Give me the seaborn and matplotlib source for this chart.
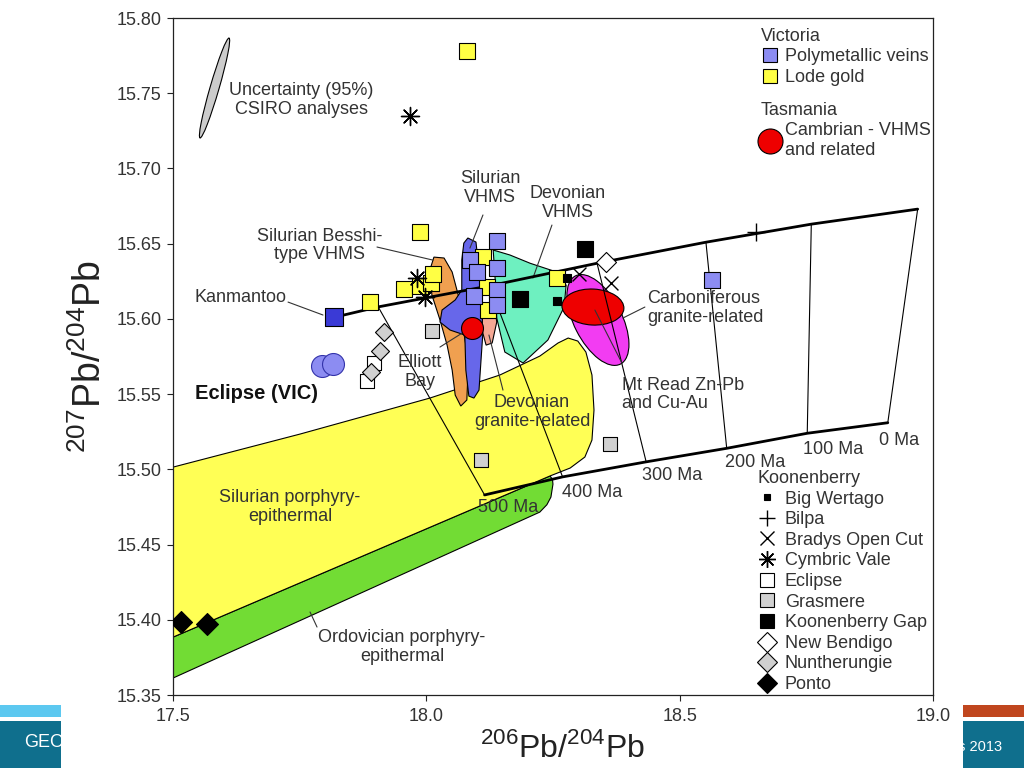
import matplotlib
matplotlib.use("Agg")
import matplotlib.pyplot as plt
import seaborn as sns
from matplotlib.patches import Ellipse, Rectangle
from matplotlib.lines import Line2D
from matplotlib.transforms import ScaledTranslation

# ---- point data (206Pb/204Pb, 207Pb/204Pb) ----
poly_x = [18.139, 18.086, 18.100, 18.139, 18.094, 18.139, 18.139, 18.563]
poly_y = [15.652, 15.639, 15.631, 15.634, 15.615, 15.619, 15.609, 15.626]
kanm_x = [17.817]
kanm_y = [15.601]
lode_x = [18.080, 17.988, 17.889, 17.956, 17.988, 18.009, 18.013, 18.111, 18.119, 18.121, 18.257]
lode_y = [15.778, 15.658, 15.611, 15.620, 15.622, 15.624, 15.630, 15.641, 15.621, 15.606, 15.627]
ecl_vic_x = [17.795, 17.816]
ecl_vic_y = [15.569, 15.570]
elliott_x = [18.090]
elliott_y = [15.594]
wertago_x = [18.257, 18.277]
wertago_y = [15.612, 15.627]
bilpa_x = [18.650]
bilpa_y = [15.658]
bradys_x = [18.302, 18.365]
bradys_y = [15.630, 15.624]
cymbric_x = [17.968, 17.982, 17.997]
cymbric_y = [15.735, 15.627, 15.6145]
eclipse_x = [17.897, 17.883]
eclipse_y = [15.571, 15.559]
grasmere_x = [18.011, 18.107, 18.363]
grasmere_y = [15.592, 15.506, 15.517]
kgap_x = [18.314, 18.184]
kgap_y = [15.6465, 15.613]
bendigo_x = [18.355]
bendigo_y = [15.638]
nunth_x = [17.917, 17.909, 17.891]
nunth_y = [15.591, 15.579, 15.565]
ponto_x = [17.516, 17.567]
ponto_y = [15.3985, 15.397]

# ---- model curves ----
upper_x = [17.817, 17.905, 18.125, 18.337, 18.552, 18.760, 18.970]
upper_y = [15.601, 15.608, 15.622, 15.637, 15.651, 15.663, 15.673]
lower_x = [18.115, 18.269, 18.434, 18.593, 18.752, 18.911]
lower_y = [15.483, 15.495, 15.505, 15.514, 15.524, 15.531]
ages = ["500 Ma", "400 Ma", "300 Ma", "200 Ma", "100 Ma", "0 Ma"]
age_lab_x = [18.161, 18.327, 18.485, 18.649, 18.804, 18.934]
age_lab_y = [15.4745, 15.4849, 15.4962, 15.5049, 15.5135, 15.5195]

# ---- fields ----
yellow_x = [17.5, 17.751, 18.007, 18.145, 18.224, 18.260, 18.280, 18.299, 18.315,
            18.327, 18.331, 18.327, 18.313, 18.284, 18.244, 17.5]
yellow_y = [15.5015, 15.5235, 15.5474, 15.5627, 15.5753, 15.584, 15.5873, 15.5853, 15.578,
            15.5627, 15.5394, 15.5195, 15.5082, 15.5009, 15.4956, 15.3885]
green_x = [17.5, 18.244, 18.249, 18.250, 18.246, 18.238, 18.224, 17.5]
green_y = [15.3885, 15.4956, 15.4935, 15.4902, 15.4816, 15.4765, 15.4716, 15.3613]
orange_x = [18.015, 18.007, 18.011, 18.027, 18.041, 18.051, 18.057, 18.068,
            18.080, 18.082, 18.078, 18.070, 18.063, 18.051, 18.035]
orange_y = [15.6411, 15.6325, 15.6159, 15.5993, 15.5826, 15.566, 15.5494, 15.5421,
            15.5461, 15.5627, 15.5826, 15.5993, 15.6159, 15.6312, 15.6405]
blue_x = [18.082, 18.098, 18.104, 18.108, 18.112, 18.108, 18.104, 18.094, 18.084,
          18.078, 18.076, 18.047, 18.027, 18.031, 18.057, 18.070, 18.070, 18.074]
blue_y = [15.6538, 15.6511, 15.6325, 15.6126, 15.5926, 15.5727, 15.5527, 15.5474, 15.5487,
          15.566, 15.5893, 15.5926, 15.5979, 15.6059, 15.6126, 15.6192, 15.6391, 15.6504]
pink_x = [18.112, 18.136, 18.139, 18.130, 18.118, 18.110]
pink_y = [15.6106, 15.6059, 15.5979, 15.584, 15.5826, 15.5926]
teal_x = [18.132, 18.165, 18.205, 18.250, 18.276, 18.272, 18.240, 18.191, 18.155, 18.139, 18.136]
teal_y = [15.6458, 15.6425, 15.637, 15.632, 15.6225, 15.6079, 15.586, 15.5707, 15.578, 15.6006, 15.6258]

# ellipses: centre x, centre y, width/height (inches), angle
mtread = (18.3388, 15.5993, 0.99, 0.48, 117)
cambrian = (18.3289, 15.6079, 0.62, 0.36, -3)
uncert = (17.5819, 15.7535, 1.04, 0.09, 73.8)

# labels and leaders
labels = [
    ("Uncertainty (95%)\nCSIRO analyses", 17.7526, 15.7455, "center"),
    ("Silurian\nVHMS", 18.1256, 15.687, "center"),
    ("Devonian\nVHMS", 18.2795, 15.677, "center"),
    ("Silurian Besshi-\ntype VHMS", 17.79, 15.649, "center"),
    ("Kanmantoo", 17.723, 15.614, "right"),
    ("Elliott\nBay", 17.9875, 15.5647, "center"),
    ("Devonian\ngranite-related", 18.2085, 15.5381, "center"),
    ("Mt Read Zn-Pb\nand Cu-Au", 18.3861, 15.55, "left"),
    ("Carboniferous\ngranite-related", 18.4355, 15.6072, "left"),
    ("Silurian porphyry-\nepithermal", 17.7309, 15.475, "center"),
    ("Ordovician porphyry-\nepithermal", 17.952, 15.3819, "center"),
]
leaders = [
    ([17.9026, 18.0131], [15.6478, 15.6391]),
    ([17.727, 17.796], [15.6112, 15.6026]),
    ([18.1118, 18.0861], [15.6691, 15.6471]),
    ([18.248, 18.2105], [15.6624, 15.6272]),
    ([18.0269, 18.0802], [15.5813, 15.5926]),
    ([18.1513, 18.1236], [15.5527, 15.5893]),
    ([18.4315, 18.3881], [15.6079, 15.6006]),
    ([18.3328, 18.3861], [15.6059, 15.5707]),
    ([17.7704, 17.7842], [15.4052, 15.3952]),
]

BLUE_SQ = "#8c8cf2"
KANM = "#3a3ad6"
LODE = "#ffff44"
TXT = "#333333"

sns.set_style("ticks")
plt.rcParams["font.family"] = ["Liberation Sans", "DejaVu Sans"]
plt.rcParams["mathtext.fontset"] = "custom"
plt.rcParams["mathtext.rm"] = "Liberation Sans"

fig = plt.figure(figsize=(10.24, 7.68), dpi=100)
ax = fig.add_axes([0.169, 0.095, 0.742, 0.8815])
ax.set_facecolor("white")

# slide footer behind the figure panel
fig.add_artist(Rectangle((0, 0), 1, 0.0612, transform=fig.transFigure, fc="#0f6f8d", ec="none", zorder=-4))
fig.add_artist(Rectangle((0, 0.0664), 0.5, 0.0156, transform=fig.transFigure, fc="#5cc8f0", ec="none", zorder=-4))
fig.add_artist(Rectangle((0.5, 0.0664), 0.5, 0.0156, transform=fig.transFigure, fc="#c0461e", ec="none", zorder=-4))
fig.text(0.0234, 0.0326, "GEO", color="white", fontsize=13, va="center", ha="left", zorder=-3)
fig.text(0.979, 0.0267, "s 2013", color="white", fontsize=10.5, va="center", ha="right", zorder=-3)
fig.add_artist(Rectangle((0.0596, 0), 0.8808, 1, transform=fig.transFigure, fc="white", ec="none", zorder=-1))

# fields
ax.fill(green_x, green_y, fc="#72dc34", ec="k", lw=0.8, zorder=1)
ax.fill(yellow_x, yellow_y, fc="#ffff55", ec="k", lw=0.8, zorder=1.1)
ax.fill(teal_x, teal_y, fc="#6ef0c0", ec="k", lw=0.8, zorder=1.2)
ax.fill(orange_x, orange_y, fc="#f0a050", ec="k", lw=0.8, zorder=1.3)
ax.fill(blue_x, blue_y, fc="#6767ea", ec="k", lw=0.8, zorder=1.4)
ax.fill(pink_x, pink_y, fc="#f4a894", ec="k", lw=0.8, zorder=1.5)


def add_ellipse(spec, fc, z):
    cx, cy, w, h, ang = spec
    tr = fig.dpi_scale_trans + ScaledTranslation(cx, cy, ax.transData)
    ax.add_patch(Ellipse((0, 0), w, h, angle=ang, transform=tr, fc=fc, ec="k", lw=0.8, zorder=z))


add_ellipse(mtread, "#f23cf2", 1.6)
add_ellipse(cambrian, "#ee0000", 1.7)
add_ellipse(uncert, "#cccccc", 1.7)

# isochrons and growth curves
for i in range(len(lower_x)):
    ax.plot([upper_x[i + 1], lower_x[i]], [upper_y[i + 1], lower_y[i]], color="k", lw=0.8, zorder=3)
sns.lineplot(x=upper_x, y=upper_y, color="k", lw=2, sort=False, ax=ax, zorder=3.5)
sns.lineplot(x=lower_x, y=lower_y, color="k", lw=2, sort=False, ax=ax, zorder=3.5)
for xs, ys in leaders:
    ax.plot(xs, ys, color="#333333", lw=0.8, zorder=3.2)

# points
pts = [
    (grasmere_x, grasmere_y, "s", 100, "#d0d0d0", 5),
    (eclipse_x, eclipse_y, "s", 90, "white", 5),
    (nunth_x, nunth_y, "D", 84, "#d0d0d0", 5.1),
    (lode_x, lode_y, "s", 117, LODE, 5.2),
    (poly_x, poly_y, "s", 117, BLUE_SQ, 5.3),
    (kanm_x, kanm_y, "s", 150, KANM, 5.3),
    (ecl_vic_x, ecl_vic_y, "o", 250, BLUE_SQ, 5.3),
    (elliott_x, elliott_y, "o", 250, "#ee0000", 5.3),
    (kgap_x, kgap_y, "s", 133, "black", 5.4),
    (wertago_x, wertago_y, "s", 33, "black", 5.4),
    (bendigo_x, bendigo_y, "D", 104, "white", 5.4),
    (ponto_x, ponto_y, "D", 125, "black", 5.4),
]
for xs, ys, m, s, c, z in pts:
    ec = "#3333aa" if m == "o" and c == BLUE_SQ else "k"
    sns.scatterplot(x=xs, y=ys, marker=m, s=s, color=c, edgecolor=ec, linewidth=0.8,
                    ax=ax, zorder=z, legend=False)
sns.scatterplot(x=bilpa_x, y=bilpa_y, marker="+", s=169, color="k", linewidth=1, ax=ax, zorder=5.5, legend=False)
sns.scatterplot(x=bradys_x, y=bradys_y, marker="x", s=100, color="k", linewidth=1, ax=ax, zorder=5.5, legend=False)
sns.scatterplot(x=cymbric_x, y=cymbric_y, marker=(8, 2, 0), s=169, color="k", linewidth=1, ax=ax, zorder=5.5, legend=False)

# text
for s, x, y, ha in labels:
    ax.text(x, y, s, ha=ha, va="center", fontsize=13, color=TXT, linespacing=1.1, zorder=8)
ax.text(17.6638, 15.5507, "Eclipse (VIC)", ha="center", va="center", fontsize=14.5,
        fontweight="bold", color="#111111", zorder=8)
for s, x, y in zip(ages, age_lab_x, age_lab_y):
    ax.text(x, y, s, ha="center", va="center", fontsize=13, color=TXT, zorder=8)

# legends
lkw = dict(loc="upper left", frameon=False, fontsize=13, title_fontsize=13, alignment="left",
           handlelength=1.0, handletextpad=0.35, labelspacing=0.2, borderpad=0, borderaxespad=0)


def h(marker, ms, fc, ec="k", mew=0.8):
    return Line2D([], [], ls="none", marker=marker, ms=ms, mfc=fc, mec=ec, mew=mew)


leg1 = ax.legend([h("s", 10, BLUE_SQ), h("s", 10, LODE)], ["Polymetallic veins", "Lode gold"],
                 title="Victoria", bbox_to_anchor=(0.7737, 0.9855), **lkw)
ax.add_artist(leg1)
leg2 = ax.legend([h("o", 18, "#ee0000")], ["Cambrian - VHMS\nand related"],
                 title="Tasmania", bbox_to_anchor=(0.7737, 0.8765), **lkw)
ax.add_artist(leg2)
kh = [h("s", 5, "black"), h("+", 12, "k", "k", 1), h("x", 10, "k", "k", 1), h((8, 2, 0), 12, "k", "k", 1),
      h("s", 10, "white"), h("s", 10, "#d0d0d0"), h("s", 10, "black"), h("D", 10, "white"),
      h("D", 10, "#d0d0d0"), h("D", 10.5, "black")]
kl = ["Big Wertago", "Bilpa", "Bradys Open Cut", "Cymbric Vale", "Eclipse", "Grasmere",
      "Koonenberry Gap", "New Bendigo", "Nuntherungie", "Ponto"]
lkw["handletextpad"] = 0.5
leg3 = ax.legend(kh, kl, title="Koonenberry", bbox_to_anchor=(0.7697, 0.3325), **lkw)
for lg in (leg1, leg2, leg3):
    for t in lg.get_texts():
        t.set_color(TXT)
    lg.get_title().set_color(TXT)

# axes
ax.set_xlim(17.5, 19.0)
ax.set_ylim(15.35, 15.80)
ax.set_xticks([17.5, 18.0, 18.5, 19.0])
ax.set_xticklabels(["17.5", "18.0", "18.5", "19.0"])
yt = [15.35, 15.40, 15.45, 15.50, 15.55, 15.60, 15.65, 15.70, 15.75, 15.80]
ax.set_yticks(yt)
ax.set_yticklabels([f"{v:.2f}" for v in yt])
ax.tick_params(direction="out", length=4.5, width=0.8, labelsize=13, colors="#222222",
               labelcolor=TXT, pad=4)
ax.tick_params(axis="x", pad=5)
for sp in ax.spines.values():
    sp.set_visible(True)
    sp.set_color("#222222")
    sp.set_linewidth(0.9)
ax.set_xlabel(r"$^{206}$Pb/$^{204}$Pb", fontsize=23, color="#222222", labelpad=5)
ax.set_ylabel(r"$^{207}$Pb/$^{204}$Pb", fontsize=27, color="#222222", labelpad=5)
ax.xaxis.label.set_x(0.512)

fig.savefig("out.png", dpi=100)
